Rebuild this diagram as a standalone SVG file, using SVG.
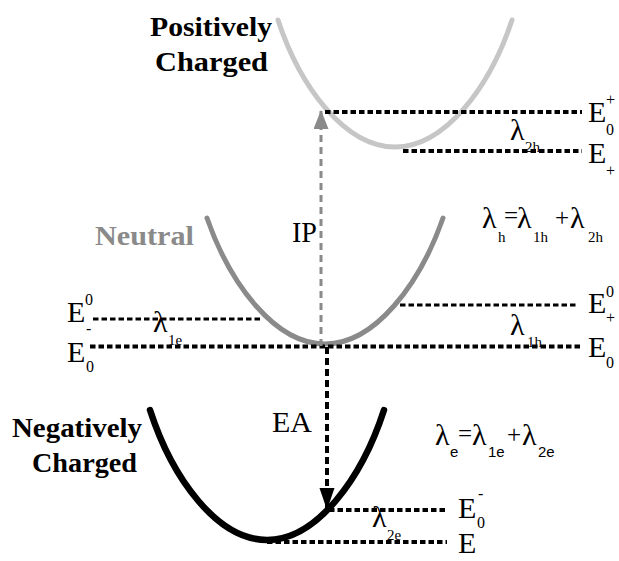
<svg xmlns="http://www.w3.org/2000/svg" width="619" height="561" viewBox="0 0 619 561" font-family="'Liberation Serif', 'Times New Roman', Times, serif">
<style>
  .lbl { font-weight: bold; font-size: 27px; fill: #000; }
  .t { font-size: 30px; fill: #000; }
  .op { font-size: 25px; fill: #000; }
  .s { font-size: 16px; fill: #000; }
  .ss { font-size: 15px; fill: #000; }
  .curve { fill: none; stroke-linecap: round; }
  .lvl { fill: none; stroke: #000; stroke-width: 4; stroke-dasharray: 5.5 3; }
  .lvl-thin { fill: none; stroke: #000; stroke-width: 3; stroke-dasharray: 5.5 3; }
</style>
<defs>
  <marker id="ah-gray" markerUnits="userSpaceOnUse" markerWidth="20" markerHeight="16" refX="19" refY="7.5" orient="auto">
    <path d="M0,0 L19,7.5 L0,15 z" fill="#8a8a8a"/>
  </marker>
  <marker id="ah-black" markerUnits="userSpaceOnUse" markerWidth="24" markerHeight="16" refX="22" refY="7.5" orient="auto">
    <path d="M0,0 L22,7.5 L0,15 z" fill="#000"/>
  </marker>
</defs>
<rect width="619" height="561" fill="#fff"/>

<g id="positive">
  <path class="curve" d="M278,20 C300,87 345,147 395,147 C445,147 490,87 512,20" stroke="#c6c6c6" stroke-width="5"/>
  <text class="lbl" x="150" y="36" textLength="122" lengthAdjust="spacingAndGlyphs">Positively</text>
  <text class="lbl" x="155" y="71" textLength="113" lengthAdjust="spacingAndGlyphs">Charged</text>
</g>

<g id="neutral">
  <path class="curve" d="M207,218 C230,284 275,344 325,344 C375,344 420,284 443,218" stroke="#8a8a8a" stroke-width="5"/>
  <text class="lbl" x="95" y="245" textLength="99" lengthAdjust="spacingAndGlyphs" fill="#8a8a8a" style="fill:#8a8a8a">Neutral</text>
</g>

<g id="negative">
  <path class="curve" d="M150,410 C172,478 217,540 267,540 C317,540 362,478 384,410" stroke="#000" stroke-width="6.5"/>
  <text class="lbl" x="12" y="437" textLength="130" lengthAdjust="spacingAndGlyphs">Negatively</text>
  <text class="lbl" x="32" y="472" textLength="105" lengthAdjust="spacingAndGlyphs">Charged</text>
</g>

<g id="levels">
  <line class="lvl" x1="325" y1="112" x2="582" y2="112"/>
  <line class="lvl" x1="403" y1="151" x2="582" y2="151"/>
  <line class="lvl-thin" x1="400" y1="305" x2="578" y2="305"/>
  <line class="lvl-thin" x1="93" y1="319" x2="262" y2="319"/>
  <line class="lvl" x1="90" y1="346.5" x2="582" y2="346.5"/>
  <line class="lvl" x1="329" y1="510" x2="447" y2="510"/>
  <line class="lvl" x1="267" y1="542" x2="447" y2="542"/>
</g>

<g id="connectors">
  <line x1="321" y1="346" x2="321" y2="110" stroke="#8a8a8a" stroke-width="3" stroke-dasharray="7 5" marker-end="url(#ah-gray)"/>
  <line x1="327" y1="347" x2="327" y2="510" stroke="#000" stroke-width="4" stroke-dasharray="7 4" marker-end="url(#ah-black)"/>
</g>

<g id="arrow-labels">
  <text class="t" x="292" y="242" textLength="25" lengthAdjust="spacingAndGlyphs">IP</text>
  <text class="t" x="272" y="432" textLength="40" lengthAdjust="spacingAndGlyphs">EA</text>
</g>

<g id="level-labels">
  <text class="t" x="588" y="122">E</text><text class="s" x="606" y="105">+</text><text class="s" x="606" y="135">0</text>
  <text class="t" x="588" y="163">E</text><text class="s" x="606" y="176">+</text>
  <text class="t" x="588" y="313">E</text><text class="s" x="606" y="297">0</text><text class="s" x="606" y="323">+</text>
  <text class="t" x="588" y="357">E</text><text class="s" x="606" y="368">0</text>
  <text class="t" x="67" y="322">E</text><text class="s" x="85" y="305">0</text><text class="s" x="86" y="334">-</text>
  <text class="t" x="67" y="362">E</text><text class="s" x="86" y="372">0</text>
  <text class="t" x="458" y="518">E</text><text class="s" x="478" y="499">-</text><text class="s" x="477" y="528">0</text>
  <text class="t" x="458" y="553">E</text>

  <text class="t" x="510" y="140">λ</text><text class="ss" x="525" y="152">2h</text>
  <text class="t" x="510" y="335">λ</text><text class="ss" x="527" y="347">1h</text>
  <text class="t" x="153" y="332">λ</text><text class="ss" x="168" y="345">1e</text>
  <text class="t" x="372" y="527">λ</text><text class="ss" x="387" y="540">2e</text>
</g>

<g id="formula-h">
  <text class="t" x="482" y="228">λ</text><text class="ss" x="498" y="242">h</text>
  <text class="op" x="504" y="224">=</text>
  <text class="t" x="517" y="228">λ</text><text class="ss" x="533" y="242">1h</text>
  <text class="op" x="555" y="226">+</text>
  <text class="t" x="570" y="228">λ</text><text class="ss" x="588" y="242">2h</text>
</g>

<g id="formula-e" font-family="'Liberation Sans', Arial, sans-serif">
  <text class="t" x="435" y="445" font-family="'Liberation Serif', serif">λ</text><text class="ss" x="450" y="457">e</text>
  <text class="op" x="458" y="442" font-family="'Liberation Serif', serif">=</text>
  <text class="t" x="472" y="445" font-family="'Liberation Serif', serif">λ</text><text class="ss" x="488" y="457">1e</text>
  <text class="op" x="507" y="443" font-family="'Liberation Serif', serif">+</text>
  <text class="t" x="522" y="445" font-family="'Liberation Serif', serif">λ</text><text class="ss" x="538" y="457">2e</text>
</g>
</svg>
